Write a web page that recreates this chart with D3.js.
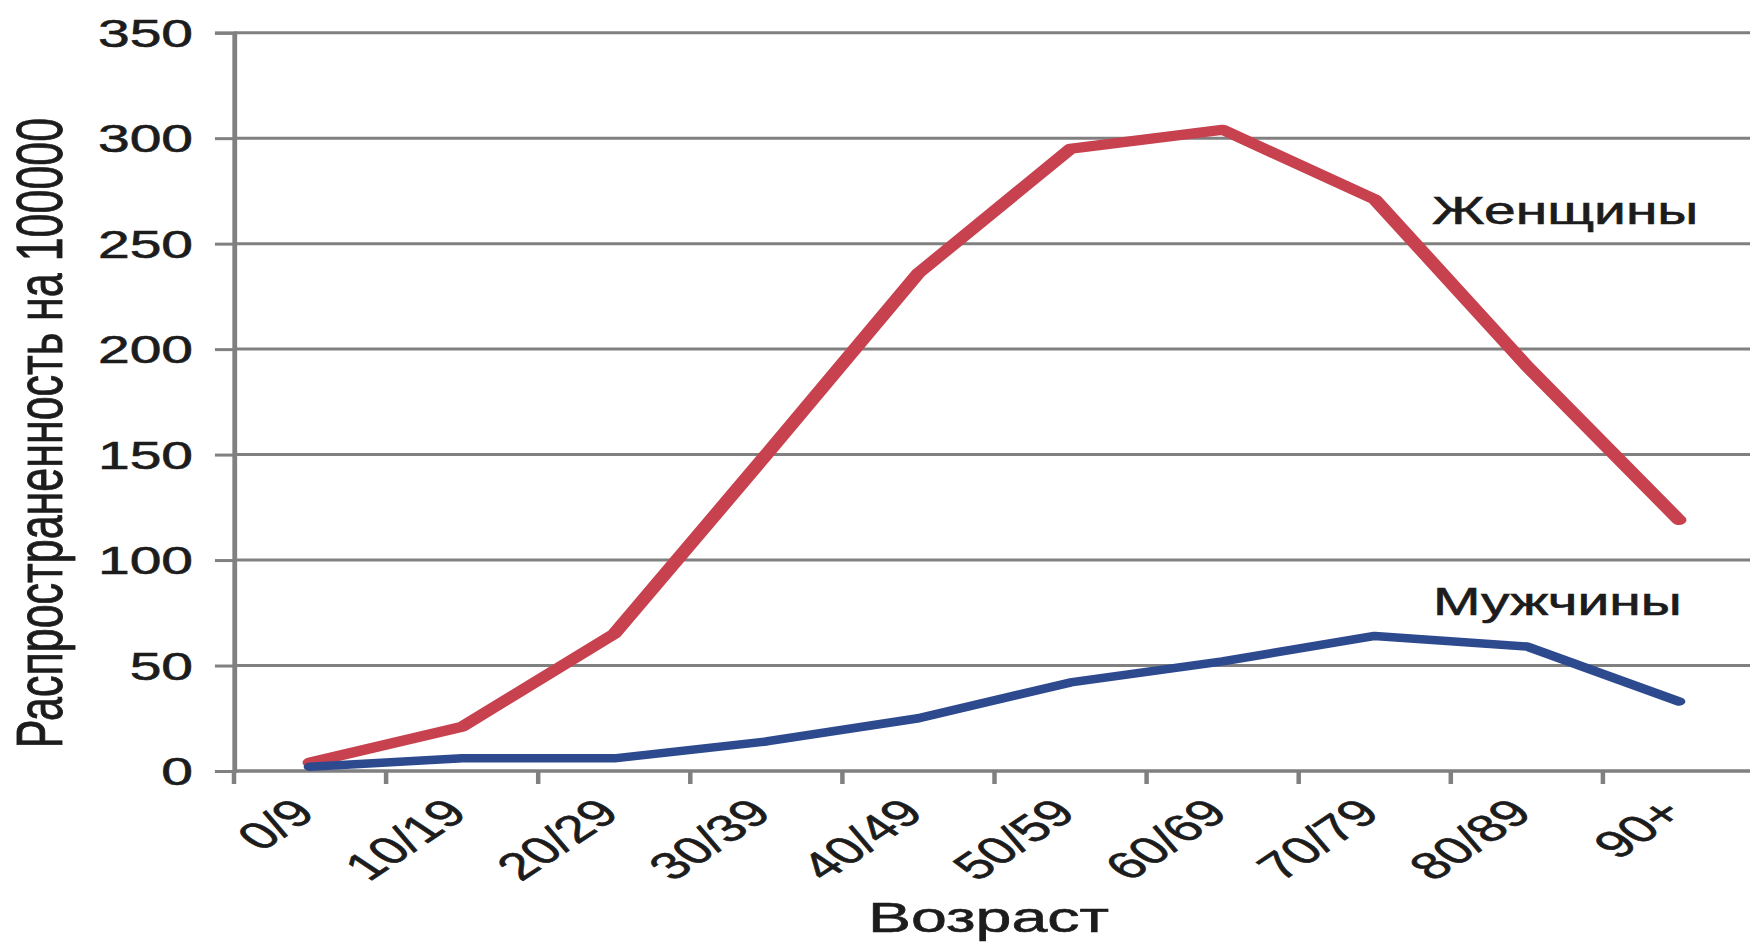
<!DOCTYPE html>
<html>
<head>
<meta charset="utf-8">
<script src="https://cdn.jsdelivr.net/npm/d3@7"></script>
<style>
  html, body { margin: 0; padding: 0; background: #ffffff; }
  svg { display: block; }
  text { font-family: "Liberation Sans", Arial, sans-serif; fill: #1c1c1c; stroke: #1c1c1c; stroke-width: 0.6px; }
</style>
</head>
<body>
<svg id="chart" width="1750" height="943"></svg>
<script>
// Age groups
const categories = ["0/9", "10/19", "20/29", "30/39", "40/49", "50/59", "60/69", "70/79", "80/89", "90+"];
// Prevalence per 100000
const women = [4, 21, 65, 150, 236, 295, 304, 271, 192, 119];
const men   = [2, 6, 6, 14, 25, 42, 52, 64, 59, 33];
const yTicks = [0, 50, 100, 150, 200, 250, 300, 350];
const seriesNames = ["Женщины", "Мужчины"];
const xTitle = "Возраст";
const yTitle = "Распространенность на 100000";

// The whole chart is laid out in a frame that is stretched horizontally
const SX = 1.5;
const plot = { left: 156, right: 1170, top: 32.7, bottom: 771 };

const svg = d3.select("#chart");
svg.append("rect").attr("width", 1750).attr("height", 943).attr("fill", "#fff");
const g = svg.append("g").attr("transform", `scale(${SX},1)`);

const x = d3.scaleBand().domain(categories).range([plot.left, plot.right]).padding(0);
const y = d3.scaleLinear().domain([0, 350]).range([plot.bottom, plot.top]);
const cx = d => x(d) + x.bandwidth() / 2;

// Horizontal gridlines
g.append("g").selectAll("line").data(yTicks).join("line")
  .attr("x1", plot.left).attr("x2", plot.right)
  .attr("y1", d => y(d)).attr("y2", d => y(d))
  .attr("stroke", "#808080").attr("stroke-width", 3);

// Y axis with tick labels
const yAxis = g.append("g").attr("transform", `translate(${plot.left},0)`)
  .call(d3.axisLeft(y).tickValues(yTicks).tickSize(12.7).tickPadding(14.6));
yAxis.select(".domain").attr("stroke", "#808080").attr("stroke-width", 3.2);
yAxis.selectAll(".tick line").attr("stroke", "#808080").attr("stroke-width", 3);
yAxis.selectAll(".tick text")
  .attr("font-size", 38).attr("dy", "0.36em")
  .style("font-family", '"Liberation Sans", Arial, sans-serif')
  .attr("fill", "#1c1c1c").attr("stroke", "#1c1c1c").attr("stroke-width", 0.6);

// X axis: baseline, ticks on category boundaries, rotated labels
const boundaries = categories.map(c => x(c)).concat([plot.right]);
g.append("line")
  .attr("x1", plot.left).attr("x2", plot.right)
  .attr("y1", plot.bottom).attr("y2", plot.bottom)
  .attr("stroke", "#808080").attr("stroke-width", 3);
g.append("g").selectAll("line").data(boundaries).join("line")
  .attr("x1", d => d).attr("x2", d => d)
  .attr("y1", plot.bottom).attr("y2", plot.bottom + 13)
  .attr("stroke", "#808080").attr("stroke-width", 3);
g.append("g").selectAll("text").data(categories).join("text")
  .attr("transform", d => `translate(${cx(d) + 5},${plot.bottom + 44}) rotate(-45)`)
  .attr("text-anchor", "end")
  .attr("font-size", 38)
  .text(d => d);

// Series lines
const line = d3.line().x((d, i) => cx(categories[i])).y(d => y(d));
g.append("path").datum(women)
  .attr("d", line).attr("fill", "none")
  .attr("stroke", "#c8414f").attr("stroke-width", 10)
  .attr("stroke-linejoin", "round").attr("stroke-linecap", "round");
g.append("path").datum(men)
  .attr("d", line).attr("fill", "none")
  .attr("stroke", "#2e4a8f").attr("stroke-width", 8.5)
  .attr("stroke-linejoin", "round").attr("stroke-linecap", "round");

// Series labels
g.append("text").attr("x", 954.7).attr("y", 224).attr("font-size", 38).text(seriesNames[0]);
g.append("text").attr("x", 955.3).attr("y", 615).attr("font-size", 38).text(seriesNames[1]);

// Axis titles
g.append("text")
  .attr("x", (plot.left + plot.right) / 2 - 4).attr("y", 932)
  .attr("text-anchor", "middle").attr("font-size", 43)
  .text(xTitle);
g.append("text")
  .attr("transform", `translate(41,433) rotate(-90)`)
  .attr("text-anchor", "middle").attr("font-size", 43)
  .text(yTitle);
</script>
</body>
</html>
